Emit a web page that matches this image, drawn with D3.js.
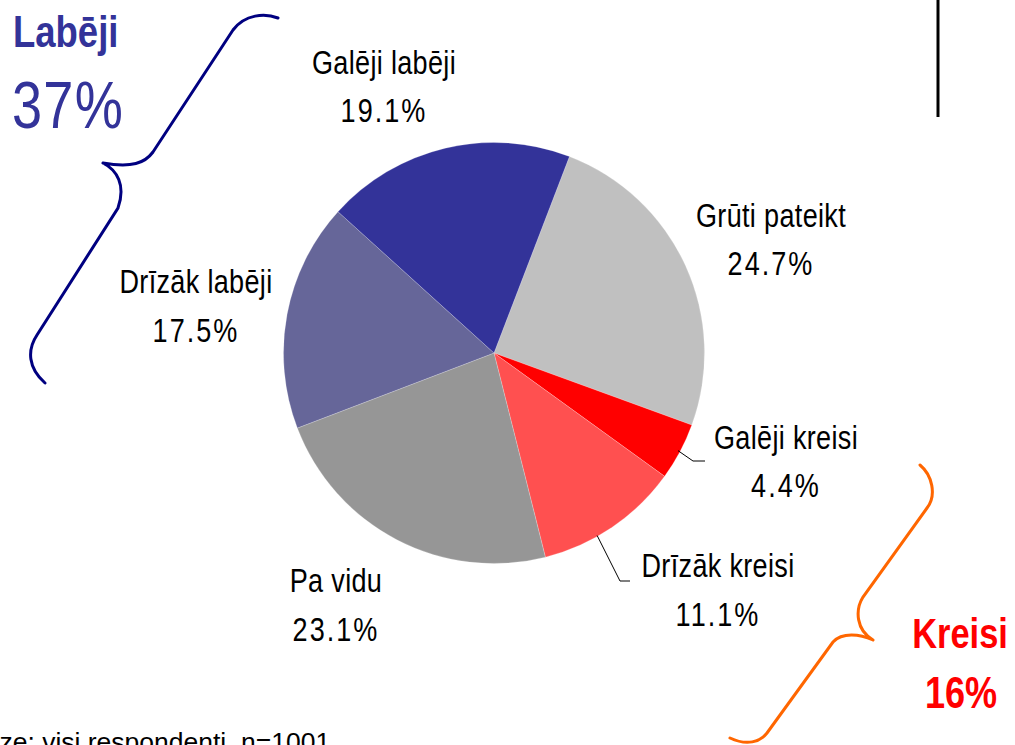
<!DOCTYPE html>
<html>
<head>
<meta charset="utf-8">
<script src="https://cdn.jsdelivr.net/npm/d3@7"></script>
<style>
  html, body { margin: 0; padding: 0; background: #fff; overflow: hidden; }
  svg { display: block; }
  .lbl { font-family: "Liberation Sans", Arial, sans-serif; font-size: 33px; fill: #000; }
</style>
</head>
<body>
<svg id="chart" width="1015" height="745"></svg>
<script>
// ---- data ----
const categories = ["Grūti pateikt", "Galēji kreisi", "Drīzāk kreisi", "Pa vidu", "Drīzāk labēji", "Galēji labēji"];
const values = [24.7, 4.4, 11.1, 23.1, 17.5, 19.1];
const valueLabels = ["24.7%", "4.4%", "11.1%", "23.1%", "17.5%", "19.1%"];
const colors = ["#C0C0C0", "#FF0000", "#FF5050", "#969696", "#666699", "#333399"];
const groupNames = ["Labēji", "Kreisi"];
const groupValues = ["37%", "16%"];
const footnote = "Bāze: visi respondenti, n=1001";

const svg = d3.select("#chart");
const cx = 494, cy = 353, R = 210.5;
const startDeg = 21;
const NARROW = 0.82;

const pie = d3.pie().sort(null).value(d => d.v)
  .startAngle(startDeg * Math.PI / 180)
  .endAngle((startDeg + 360) * Math.PI / 180);
const arc = d3.arc().innerRadius(0).outerRadius(R);
const data = categories.map((c, i) => ({ c, v: values[i], lab: valueLabels[i], col: colors[i] }));
const arcs = pie(data);

const g = svg.append("g").attr("transform", `translate(${cx},${cy})`);
g.selectAll("path.slice").data(arcs).enter().append("path")
  .attr("class", "slice")
  .attr("d", arc)
  .attr("fill", d => d.data.col)
  .attr("stroke", "#ffffff").attr("stroke-opacity", 0.35).attr("stroke-width", 0.6);

// narrow text helper (condensed sans)
function narrowText(x, y, str, opts) {
  const t = svg.append("g").attr("transform", `translate(${x},${y}) scale(${NARROW},1)`)
    .append("text").attr("x", 0).attr("y", 0).text(str);
  Object.entries(opts || {}).forEach(([k, v]) => t.attr(k, v));
  return t;
}

// ---- labels (text layout) ----
const labelLayout = {
  "Grūti pateikt": { x: 771, y1: 227, y2: 275 },
  "Galēji kreisi": { x: 786, y1: 449, y2: 497 },
  "Drīzāk kreisi": { x: 718, y1: 577, y2: 626 },
  "Pa vidu": { x: 336, y1: 592, y2: 641 },
  "Drīzāk labēji": { x: 196, y1: 293, y2: 342 },
  "Galēji labēji": { x: 384, y1: 74, y2: 122 }
};
arcs.forEach(a => {
  const L = labelLayout[a.data.c];
  narrowText(L.x, L.y1, a.data.c, { "class": "lbl", "text-anchor": "middle", "letter-spacing": 0.4 });
  narrowText(L.x, L.y2, a.data.lab, { "class": "lbl", "text-anchor": "middle", "letter-spacing": 2.5 });
});

// leader lines for small slices
function edgePoint(a, frac) {
  const ang = a.startAngle + (a.endAngle - a.startAngle) * frac;
  return [cx + R * Math.sin(ang), cy - R * Math.cos(ang)];
}
const aGK = arcs[1], aDK = arcs[2];
const p1 = edgePoint(aGK, 0.5);
svg.append("polyline").attr("fill", "none").attr("stroke", "#000").attr("stroke-width", 1)
  .attr("points", [[p1[0] - 2, p1[1] - 1], [693, 461], [705, 461]].map(p => p.join(",")).join(" "));
const p2 = edgePoint(aDK, 0.62);
svg.append("polyline").attr("fill", "none").attr("stroke", "#000").attr("stroke-width", 1)
  .attr("points", [[p2[0], p2[1] - 1], [620, 581], [630, 581]].map(p => p.join(",")).join(" "));

// ---- group annotations ----
const ff = "'Liberation Sans', Arial, sans-serif";
narrowText(13, 46.5, groupNames[0], { "font-family": ff, "font-weight": "bold", "font-size": 44.5, "fill": "#333399" });
narrowText(12, 128, groupValues[0], { "font-family": ff, "font-size": 66, "fill": "#333399", "letter-spacing": 1.5 });
narrowText(960, 648, groupNames[1], { "font-family": ff, "font-weight": "bold", "font-size": 42, "fill": "#FF0000", "text-anchor": "middle" });
narrowText(961, 708, groupValues[1], { "font-family": ff, "font-weight": "bold", "font-size": 44, "fill": "#FF0000", "text-anchor": "middle" });

// braces
svg.append("path").attr("fill", "none").attr("stroke", "#000080").attr("stroke-width", 3)
  .attr("stroke-linecap", "round")
  .attr("d", "M278,18 C265,13 245,14 233,30 L153,152 C145,163 132,168 103,163 " +
             "M103,163 C117,170 126,185 118,208 L37,335 C27,350 28,368 45,383");
svg.append("path").attr("fill", "none").attr("stroke", "#FF6600").attr("stroke-width", 3)
  .attr("stroke-linecap", "round")
  .attr("d", "M920,465 C932,475 937,495 927,508 L863,597 C855,610 856,630 873,640 " +
             "M873,640 C860,634 842,632 833,642 L767,733 C760,742 747,746 730,738");

// vertical rule top right
svg.append("line").attr("x1", 938).attr("x2", 938).attr("y1", 0).attr("y2", 117)
  .attr("stroke", "#000").attr("stroke-width", 3);

// footnote (cut off at the bottom-left edge, as in the reference)
svg.append("text").attr("x", -33).attr("y", 751)
  .attr("font-family", ff).attr("font-size", 26.5)
  .attr("fill", "#000").text(footnote);
</script>
</body>
</html>
